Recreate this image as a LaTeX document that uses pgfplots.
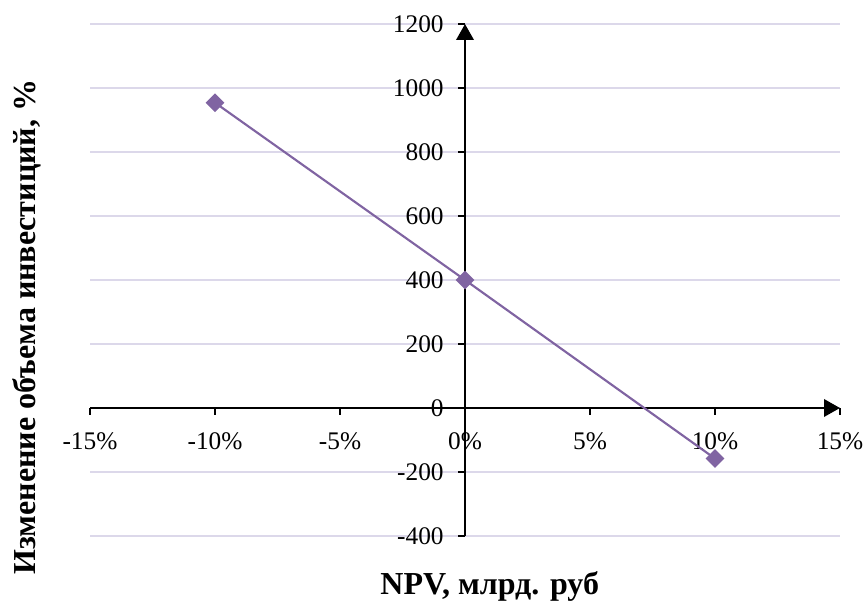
\documentclass[border=0pt]{standalone}
\usepackage{pgfplots}
\pgfplotsset{compat=1.18}
\usepackage{fontspec}
\setmainfont{Liberation Serif}
\usetikzlibrary{arrows.meta}
\definecolor{npvline}{HTML}{8064A2}
\definecolor{gridc}{HTML}{DCD8EA}

\begin{document}
\begin{tikzpicture}
\useasboundingbox (0,0) rectangle (649.5pt,453.75pt);
\begin{axis}[
  at={(67.5pt,51.75pt)}, anchor=south west,
  scale only axis, width=562.5pt, height=384pt,
  xmin=-15, xmax=15, ymin=-400, ymax=1200,
  axis lines=middle,
  axis line style={line width=1.9pt, -{Triangle[width=13pt,length=12pt]}},
  xtick={-15,-10,...,15},
  xticklabels={-15\%,-10\%,-5\%,0\%,5\%,10\%,15\%},
  ytick={-400,-200,...,1200},
  yticklabels={-400,-200,0,200,400,600,800,1000,1200},
  hide obscured x ticks=false, hide obscured y ticks=false,
  tick align=outside, major tick length=5pt,
  tick style={black, line width=1.1pt},
  ymajorgrids, grid style={gridc, line width=1pt},
  ticklabel style={font=\fontsize{19}{21}\selectfont},
  xticklabel style={yshift=-10pt},
  yticklabel style={xshift=-7.5pt},
  xlabel={NPV, млрд. руб},
  ylabel={Изменение объема инвестиций, \%},
  label style={font=\bfseries\fontsize{24}{26}\selectfont},
  xlabel style={at={(axis description cs:0.533,-0.098)}, anchor=center},
  ylabel style={at={(axis description cs:-0.084,0.408)}, anchor=center, rotate=90},
  clip=false,
]
% sensitivity of NPV to the change in investment volume
\addplot[npvline, line width=1.6pt, mark=square*, mark size=4.2pt,
  mark options={rotate=45, fill=npvline, solid}]
  coordinates {(-10,954) (0,400) (10,-158)};
\end{axis}
\end{tikzpicture}
\end{document}
